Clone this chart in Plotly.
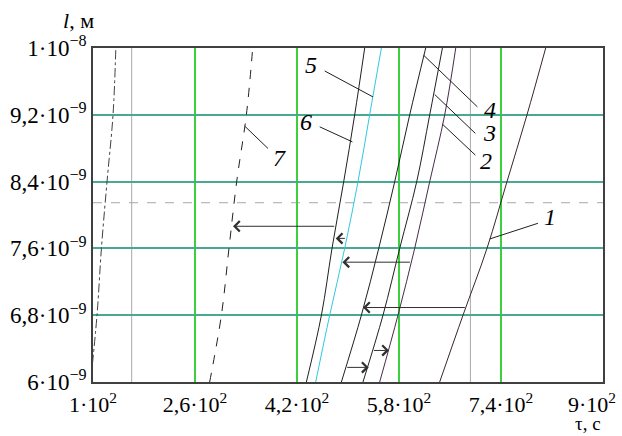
import plotly.graph_objects as go

# ---- data (l in units of 1e-9 m, tau in s) ----
l_levels = [6.0, 6.8, 7.6, 8.4, 9.2, 10.0]
tau_1 = [643.8, 680.4, 718.0, 749.4, 780.8, 810.1]
tau_2 = [549.7, 578.4, 604.6, 628.2, 651.7, 669.0]
tau_3 = [523.5, 554.9, 581.1, 607.8, 628.2, 648.1]
tau_4 = [489.6, 521.0, 548.2, 573.3, 596.8, 621.9]
tau_5 = [449.3, 471.3, 494.8, 515.7, 534.0, 552.4]
tau_6 = [434.7, 458.3, 474.9, 493.3, 510.5, 526.2]
tau_7 = [283.0, 301.4, 313.3, 325.4, 340.6, 350.5]
tau_8 = [96.2, 106.3, 113.2, 122.0, 131.4, 135.8]

x_ticks = [100, 260, 420, 580, 740, 900]
x_ticktext = ["1·10<sup>2</sup>", "2,6·10<sup>2</sup>", "4,2·10<sup>2</sup>",
              "5,8·10<sup>2</sup>", "7,4·10<sup>2</sup>", "9·10<sup>2</sup>"]
y_ticks = [6.0, 6.8, 7.6, 8.4, 9.2, 10.0]
y_ticktext = ["6·10<sup>−9</sup>", "6,8·10<sup>−9</sup>", "7,6·10<sup>−9</sup>",
              "8,4·10<sup>−9</sup>", "9,2·10<sup>−9</sup>", "1·10<sup>−8</sup>"]

# markers (gray lines)
marker_tau = [160.7, 692.0]
marker_l = 8.147

# arrows: tail tau, head tau, level l
arrow_tail = [480.7, 497.5, 599.5, 685.7, 538.3, 496.4]
arrow_head = [319.6, 480.7, 491.2, 523.5, 564.3, 532.5]
arrow_l = [7.865, 7.72, 7.435, 6.892, 6.378, 6.175]

# curve labels
label_text = ["1", "2", "3", "4", "5", "6", "7"]
label_tau = [816.4, 717.1, 721.2, 723.4, 442.6, 433.6, 391.8]
label_l = [7.980, 8.645, 8.984, 9.255, 9.793, 9.115, 8.678]
# leader lines: (tau0, l0, tau1, l1)
leaders = [
    (722.3, 7.713, 798.0, 7.901),
    (648.1, 9.088, 699.8, 8.717),
    (636.0, 9.443, 699.8, 8.977),
    (618.7, 9.913, 703.0, 9.295),
    (539.2, 9.414, 463.5, 9.725),
    (506.9, 8.876, 455.6, 9.056),
    (338.0, 9.064, 374.5, 8.797),
]

S = 1e-9
yl = [v * S for v in l_levels]
FONT = "Liberation Serif, Times New Roman, serif"

fig = go.Figure()

curves = [
    (tau_1, "#3a2626", "solid"),
    (tau_2, "#4a2a4a", "solid"),
    (tau_3, "#202020", "solid"),
    (tau_4, "#202020", "solid"),
    (tau_5, "#30c8e0", "solid"),
    (tau_6, "#202020", "solid"),
    (tau_7, "#202020", "dash"),
    (tau_8, "#404040", "dashdot"),
]
for t, c, d in curves:
    fig.add_trace(go.Scatter(x=t, y=yl, mode="lines",
                             line=dict(color=c, width=1, dash=d),
                             line_shape="spline", showlegend=False,
                             hoverinfo="skip"))

for lt in leaders:
    fig.add_trace(go.Scatter(x=[lt[0], lt[2]], y=[lt[1] * S, lt[3] * S], mode="lines",
                             line=dict(color="#202020", width=1), showlegend=False,
                             hoverinfo="skip"))

shapes = []
for mt in marker_tau:
    shapes.append(dict(type="line", xref="x", yref="paper", x0=mt, x1=mt, y0=0, y1=1,
                       line=dict(color="#a8a8a8", width=1), layer="below"))
shapes.append(dict(type="line", xref="paper", yref="y", x0=0, x1=1,
                   y0=marker_l * S, y1=marker_l * S,
                   line=dict(color="#a8a8a8", width=1, dash="dash"), layer="below"))

annotations = []
for tl, hd, lv in zip(arrow_tail, arrow_head, arrow_l):
    annotations.append(dict(x=hd, y=lv * S, ax=tl, ay=lv * S, xref="x", yref="y",
                            axref="x", ayref="y", text="", showarrow=True,
                            arrowhead=4, arrowsize=2.0, arrowwidth=1,
                            arrowcolor="#303030", standoff=0))
for txt, tx, ty in zip(label_text, label_tau, label_l):
    annotations.append(dict(x=tx, y=ty * S, xref="x", yref="y", text="<i>%s</i>" % txt,
                            showarrow=False,
                            font=dict(family=FONT, size=24, color="black")))
annotations.append(dict(x=-0.028, y=1.083, xref="paper", yref="paper", text="<i>l</i>, м",
                        showarrow=False, xanchor="center", yanchor="middle",
                        font=dict(family=FONT, size=22, color="black")))
annotations.append(dict(x=1.0, y=-0.125, xref="paper", yref="paper", text="τ, с",
                        showarrow=False, xanchor="right", yanchor="middle",
                        font=dict(family=FONT, size=19, color="black")))
# last x tick label, kept inside the picture
annotations.append(dict(x=1.03, y=-0.062, xref="paper", yref="paper",
                        text=x_ticktext[-1], showarrow=False,
                        xanchor="right", yanchor="middle",
                        font=dict(family=FONT, size=22, color="black")))

fig.update_layout(
    width=622, height=436,
    margin=dict(l=93, r=19, t=48, b=54),
    paper_bgcolor="white", plot_bgcolor="white",
    shapes=shapes, annotations=annotations,
    font=dict(family=FONT, size=22, color="black"),
)
fig.update_xaxes(range=[100, 900], tickvals=x_ticks[:-1], ticktext=x_ticktext[:-1],
                 showgrid=True, gridcolor="#3cd03c", gridwidth=1.5,
                 showline=True, linecolor="#404040", linewidth=1.5, mirror=True,
                 ticks="", zeroline=False, automargin=False, ticklabelstandoff=2,
                 tickfont=dict(family=FONT, size=22, color="black"))
fig.update_yaxes(range=[6.0 * S, 10.0 * S], tickvals=[v * S for v in y_ticks],
                 ticktext=y_ticktext,
                 showgrid=True, gridcolor="#48a890", gridwidth=2,
                 showline=True, linecolor="#404040", linewidth=1.5, mirror=True,
                 ticks="", zeroline=False, automargin=False,
                 tickfont=dict(family=FONT, size=23, color="black"))

fig.write_html("out.html", post_script="document.body.style.margin='0';",
               config={"displayModeBar": False})
